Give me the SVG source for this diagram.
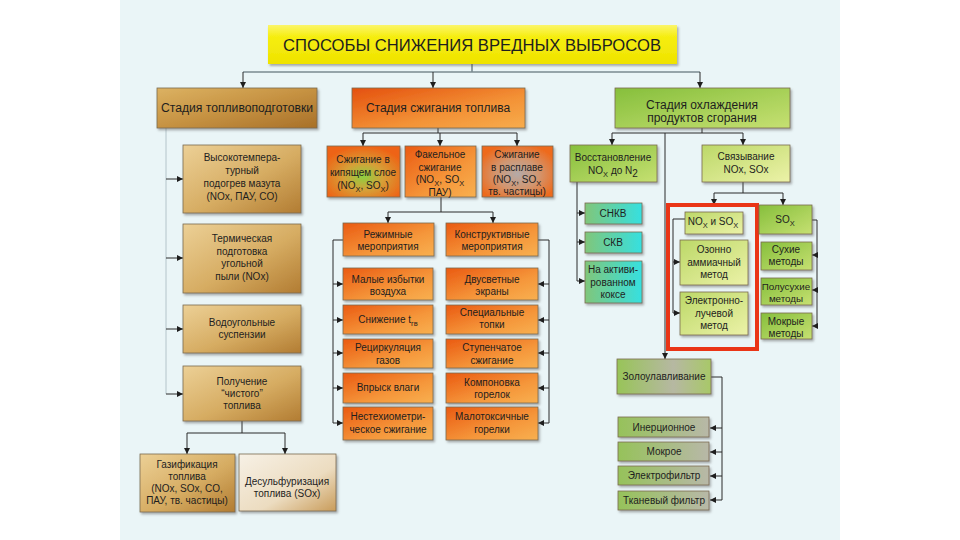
<svg xmlns="http://www.w3.org/2000/svg" width="960" height="540" viewBox="0 0 960 540">
<defs>
<style>
text{font-family:"Liberation Sans",Arial,sans-serif;fill:#1e1e1e;text-anchor:middle}
.t10{font-size:10px}
.t9{font-size:9.8px}
.ts{font-size:12px}
.box{stroke:#7a6a50;stroke-width:0.8;filter:url(#sh)}
.ln{fill:none;stroke:#2a2a2a;stroke-width:1}
.lt{fill:none;stroke:#7a8a90;stroke-width:1.6}
.ar{fill:none;stroke:#2a2a2a;stroke-width:1;marker-end:url(#ah)}
</style>
<filter id="sh" x="-10%" y="-10%" width="130%" height="140%"><feDropShadow dx="1.5" dy="2" stdDeviation="1" flood-color="#555" flood-opacity="0.45"/></filter>
<marker id="ah" markerUnits="userSpaceOnUse" markerWidth="7" markerHeight="7" refX="6" refY="3" orient="auto"><path d="M0,0 L6,3 L0,6 z" fill="#1e1e1e"/></marker>
<linearGradient id="gTitle" x1="0" y1="0" x2="0" y2="1"><stop offset="0" stop-color="#fbf56a"/><stop offset="0.3" stop-color="#f6ee10"/><stop offset="1" stop-color="#efe300"/></linearGradient>
<linearGradient id="gGold" x1="0" y1="0" x2="1" y2="1"><stop offset="0" stop-color="#ecd096"/><stop offset="0.55" stop-color="#d6ac62"/><stop offset="1" stop-color="#b27c32"/></linearGradient>
<linearGradient id="gGoldS" x1="0" y1="0" x2="1" y2="1"><stop offset="0" stop-color="#dcb262"/><stop offset="0.5" stop-color="#c69242"/><stop offset="1" stop-color="#a87028"/></linearGradient>
<linearGradient id="gDes" x1="0" y1="0" x2="1" y2="1"><stop offset="0" stop-color="#f7f1e6"/><stop offset="0.6" stop-color="#ecdcc0"/><stop offset="1" stop-color="#c99c5a"/></linearGradient>
<linearGradient id="gOr" x1="0" y1="0" x2="1" y2="1"><stop offset="0" stop-color="#ea5a12"/><stop offset="0.6" stop-color="#f5963a"/><stop offset="1" stop-color="#f8b050"/></linearGradient>
<linearGradient id="gOrS" x1="0" y1="0" x2="1" y2="1"><stop offset="0" stop-color="#e4500e"/><stop offset="0.6" stop-color="#f39236"/><stop offset="1" stop-color="#f7ac4c"/></linearGradient>
<radialGradient id="gKip" cx="0.5" cy="0.6" r="0.6"><stop offset="0" stop-color="#8ed040"/><stop offset="0.45" stop-color="#d6a038"/><stop offset="1" stop-color="#ee6416"/></radialGradient>
<radialGradient id="gRas" cx="0.5" cy="0.55" r="0.6"><stop offset="0" stop-color="#b4aaa8"/><stop offset="0.5" stop-color="#d29670"/><stop offset="1" stop-color="#ee6a1c"/></radialGradient>
<linearGradient id="gGr" x1="0" y1="0" x2="1" y2="1"><stop offset="0" stop-color="#86bf3c"/><stop offset="1" stop-color="#c6e072"/></linearGradient>
<linearGradient id="gGrL" x1="0" y1="0" x2="1" y2="1"><stop offset="0" stop-color="#bcd868"/><stop offset="1" stop-color="#ecf2a8"/></linearGradient>
<linearGradient id="gCy" x1="0" y1="0" x2="1" y2="0"><stop offset="0" stop-color="#80c67a"/><stop offset="1" stop-color="#36e0e0"/></linearGradient>
<linearGradient id="gGG" x1="0" y1="0" x2="1" y2="0"><stop offset="0" stop-color="#98c458"/><stop offset="0.6" stop-color="#b6b8a2"/><stop offset="1" stop-color="#a8c868"/></linearGradient>
<linearGradient id="gGG2" x1="0" y1="0" x2="1" y2="0"><stop offset="0" stop-color="#96c25a"/><stop offset="1" stop-color="#b8b8a8"/></linearGradient>
</defs>

<rect x="0" y="0" width="960" height="540" fill="#ffffff"/>
<rect x="120" y="0" width="720" height="540" fill="#eaf5f7"/>

<g id="connectors">
<line class="lt" x1="472" y1="64" x2="472" y2="72"/>
<line class="lt" x1="243" y1="72" x2="700" y2="72"/>
<line class="ar" x1="243" y1="72" x2="243" y2="88"/>
<line class="ar" x1="433" y1="72" x2="433" y2="88"/>
<line class="ar" x1="700" y1="72" x2="700" y2="88"/>
<line x1="166" y1="128" x2="166" y2="394" stroke="#b4c4ca" stroke-width="1"/>
<line class="ar" x1="166" y1="179" x2="183" y2="179"/>
<line class="ar" x1="166" y1="258" x2="183" y2="258"/>
<line class="ar" x1="166" y1="329" x2="183" y2="329"/>
<line class="ar" x1="166" y1="394" x2="183" y2="394"/>
<line class="ln" x1="242" y1="421" x2="242" y2="433"/>
<line class="ln" x1="187" y1="433" x2="285" y2="433"/>
<line class="ar" x1="187" y1="433" x2="187" y2="454"/>
<line class="ar" x1="285" y1="433" x2="285" y2="454"/>
<line class="ln" x1="438" y1="128" x2="438" y2="133"/>
<line class="ln" x1="363" y1="133" x2="517" y2="133"/>
<line class="ar" x1="363" y1="133" x2="363" y2="146"/>
<line class="ar" x1="440" y1="133" x2="440" y2="146"/>
<line class="ar" x1="517" y1="133" x2="517" y2="146"/>
<line class="ln" x1="441" y1="197" x2="441" y2="212"/>
<line class="ln" x1="388" y1="212" x2="493" y2="212"/>
<line class="ar" x1="388" y1="212" x2="388" y2="223"/>
<line class="ar" x1="493" y1="212" x2="493" y2="223"/>
<polyline class="ln" points="343,240 333,240 333,423"/>
<line class="ar" x1="333" y1="284" x2="343" y2="284"/>
<line class="ar" x1="333" y1="320" x2="343" y2="320"/>
<line class="ar" x1="333" y1="353" x2="343" y2="353"/>
<line class="ar" x1="333" y1="388" x2="343" y2="388"/>
<line class="ar" x1="333" y1="423" x2="343" y2="423"/>
<polyline class="ln" points="538,240 549,240 549,423"/>
<line class="ar" x1="549" y1="284" x2="538" y2="284"/>
<line class="ar" x1="549" y1="320" x2="538" y2="320"/>
<line class="ar" x1="549" y1="353" x2="538" y2="353"/>
<line class="ar" x1="549" y1="388" x2="538" y2="388"/>
<line class="ar" x1="549" y1="423" x2="538" y2="423"/>
<line class="ln" x1="702" y1="128" x2="702" y2="133"/>
<line class="ln" x1="612" y1="133" x2="743" y2="133"/>
<line class="ar" x1="612" y1="133" x2="612" y2="145"/>
<line class="ar" x1="743" y1="133" x2="743" y2="145"/>
<line class="ar" x1="665" y1="133" x2="665" y2="359"/>
<line class="ln" x1="577" y1="182" x2="577" y2="281"/>
<line class="ar" x1="577" y1="213" x2="585" y2="213"/>
<line class="ar" x1="577" y1="242" x2="585" y2="242"/>
<line class="ar" x1="577" y1="281" x2="585" y2="281"/>
<line class="ln" x1="743" y1="182" x2="743" y2="193"/>
<line class="ln" x1="714" y1="193" x2="783" y2="193"/>
<line class="ar" x1="714" y1="193" x2="714" y2="205"/>
<line class="ar" x1="783" y1="193" x2="783" y2="205"/>
<polyline class="ln" points="685,219 673,219 673,313"/>
<line class="ar" x1="673" y1="262" x2="680" y2="262"/>
<line class="ar" x1="673" y1="313" x2="680" y2="313"/>
<polyline class="ln" points="812,220 817,220 817,327"/>
<line class="ar" x1="817" y1="255" x2="812" y2="255"/>
<line class="ar" x1="817" y1="290" x2="812" y2="290"/>
<line class="ar" x1="817" y1="326" x2="812" y2="326"/>
<polyline class="ln" points="711,377 722,377 722,500"/>
<line class="ar" x1="722" y1="428" x2="710" y2="428"/>
<line class="ar" x1="722" y1="452" x2="710" y2="452"/>
<line class="ar" x1="722" y1="476" x2="710" y2="476"/>
<line class="ar" x1="722" y1="500" x2="710" y2="500"/>
</g>

<g id="title">
<rect x="268" y="25" width="409" height="39" fill="url(#gTitle)" filter="url(#sh)"/>
<text x="472" y="51" style="font-size:17px" textLength="378" lengthAdjust="spacingAndGlyphs">СПОСОБЫ  СНИЖЕНИЯ  ВРЕДНЫХ  ВЫБРОСОВ</text>
</g>

<g id="stage-fuel">
<rect class="box" x="157" y="88" width="160" height="40" fill="url(#gGoldS)"/>
<text class="ts" x="237" y="112" textLength="152" lengthAdjust="spacingAndGlyphs">Стадия топливоподготовки</text>
</g>
<g id="stage-burn">
<rect class="box" x="352" y="88" width="173" height="40" fill="url(#gOrS)"/>
<text class="ts" x="438" y="112">Стадия сжигания топлива</text>
</g>
<g id="stage-cool">
<rect class="box" x="615" y="88" width="175" height="40" fill="url(#gGr)"/>
<text class="ts" x="702" y="109">Стадия охлаждения</text>
<text class="ts" x="702" y="122">продуктов сгорания</text>
</g>

<g id="f1">
<rect class="box" x="183" y="145" width="118" height="68" fill="url(#gGold)"/>
<text class="t10" x="242" y="161">Высокотемпера-<tspan x="242" dy="13">турный</tspan><tspan x="242" dy="13">подогрев мазута</tspan><tspan x="242" dy="13">(NOx, ПАУ, CO)</tspan></text>
</g>
<g id="f2">
<rect class="box" x="183" y="224" width="118" height="69" fill="url(#gGold)"/>
<text class="t10" x="242" y="242">Термическая<tspan x="242" dy="12.7">подготовка</tspan><tspan x="242" dy="12.7">угольной</tspan><tspan x="242" dy="12.7">пыли (NOx)</tspan></text>
</g>
<g id="f3">
<rect class="box" x="183" y="305" width="118" height="48" fill="url(#gGold)"/>
<text class="t10" x="242" y="326">Водоугольные<tspan x="242" dy="12">суспензии</tspan></text>
</g>
<g id="f4">
<rect class="box" x="183" y="366" width="118" height="55" fill="url(#gGold)"/>
<text class="t10" x="242" y="385">Получение<tspan x="242" dy="12">“чистого”</tspan><tspan x="242" dy="12">топлива</tspan></text>
</g>
<g id="f5">
<rect class="box" x="140" y="454" width="95" height="58" fill="url(#gGold)"/>
<text class="t10" x="187" y="468">Газификация<tspan x="187" dy="12">топлива</tspan><tspan x="187" dy="12">(NOx, SOx, CO,</tspan><tspan x="187" dy="12">ПАУ, тв. частицы)</tspan></text>
</g>
<g id="f6">
<rect class="box" x="239" y="454" width="97" height="57" fill="url(#gDes)"/>
<text class="t10" x="287" y="485">Десульфуризация<tspan x="287" dy="12">топлива (SOx)</tspan></text>
</g>

<g id="c1">
<rect class="box" x="327" y="146" width="73" height="51" fill="url(#gKip)"/>
<text class="t10" x="363" y="163">Сжигание в<tspan x="363" dy="13">кипящем слое</tspan><tspan x="363" dy="13">(NO<tspan dy="2.5" font-size="7.5">X</tspan><tspan dy="-2.5">, SO</tspan><tspan dy="2.5" font-size="7.5">X</tspan><tspan dy="-2.5">)</tspan></tspan></text>
</g>
<g id="c2">
<rect class="box" x="405" y="146" width="71" height="51" fill="url(#gOr)"/>
<text class="t10" x="440" y="158">Факельное<tspan x="440" dy="12.5">сжигание</tspan><tspan x="440" dy="12.5">(NO<tspan dy="2.5" font-size="7.5">X</tspan><tspan dy="-2.5">, SO</tspan><tspan dy="2.5" font-size="7.5">X</tspan></tspan><tspan x="440" dy="10">ПАУ)</tspan></text>
</g>
<g id="c3">
<rect class="box" x="482" y="146" width="71" height="51" fill="url(#gRas)"/>
<text class="t10" x="517" y="158">Сжигание<tspan x="517" dy="13">в расплаве</tspan><tspan x="517" dy="12">(NO<tspan dy="2.5" font-size="7.5">X</tspan><tspan dy="-2.5">, SO</tspan><tspan dy="2.5" font-size="7.5">X</tspan></tspan><tspan x="517" dy="9.5">тв. частицы)</tspan></text>
</g>
<g id="c4">
<rect class="box" x="343" y="223" width="91" height="33" fill="url(#gOr)"/>
<text class="t10" x="388" y="238">Режимные<tspan x="388" dy="11.5">мероприятия</tspan></text>
</g>
<g id="c5">
<rect class="box" x="446" y="223" width="92" height="33" fill="url(#gOr)"/>
<text class="t10" x="492" y="238">Конструктивные<tspan x="492" dy="11.5">мероприятия</tspan></text>
</g>
<g id="c6">
<rect class="box" x="343" y="268" width="90" height="32" fill="url(#gOr)"/>
<text class="t10" x="388" y="283">Малые избытки<tspan x="388" dy="12">воздуха</tspan></text>
</g>
<g id="c7">
<rect class="box" x="343" y="305" width="90" height="29" fill="url(#gOr)"/>
<text class="t10" x="388" y="323">Снижение t<tspan dy="2.5" font-size="7.5">гв</tspan></text>
</g>
<g id="c8">
<rect class="box" x="343" y="339" width="90" height="29" fill="url(#gOr)"/>
<text class="t10" x="388" y="351">Рециркуляция<tspan x="388" dy="12.5">газов</tspan></text>
</g>
<g id="c9">
<rect class="box" x="343" y="373" width="90" height="30" fill="url(#gOr)"/>
<text class="t10" x="388" y="391">Впрыск влаги</text>
</g>
<g id="c10">
<rect class="box" x="343" y="407" width="90" height="33" fill="url(#gOr)"/>
<text class="t10" x="388" y="420">Нестехиометри-<tspan x="388" dy="13">ческое сжигание</tspan></text>
</g>
<g id="c11">
<rect class="box" x="446" y="268" width="92" height="32" fill="url(#gOr)"/>
<text class="t10" x="492" y="283">Двусветные<tspan x="492" dy="12">экраны</tspan></text>
</g>
<g id="c12">
<rect class="box" x="446" y="305" width="92" height="29" fill="url(#gOr)"/>
<text class="t10" x="492" y="316">Специальные<tspan x="492" dy="12">топки</tspan></text>
</g>
<g id="c13">
<rect class="box" x="446" y="339" width="92" height="29" fill="url(#gOr)"/>
<text class="t10" x="492" y="351">Ступенчатое<tspan x="492" dy="12.5">сжигание</tspan></text>
</g>
<g id="c14">
<rect class="box" x="446" y="373" width="92" height="30" fill="url(#gOr)"/>
<text class="t10" x="492" y="386">Компоновка<tspan x="492" dy="12">горелок</tspan></text>
</g>
<g id="c15">
<rect class="box" x="446" y="407" width="92" height="33" fill="url(#gOr)"/>
<text class="t10" x="492" y="420">Малотоксичные<tspan x="492" dy="13">горелки</tspan></text>
</g>

<g id="k1">
<rect class="box" x="570" y="145" width="87" height="37" fill="url(#gGr)"/>
<text class="t10" x="613" y="161">Восстановление<tspan x="613" dy="13">NO<tspan dy="2.5" font-size="7.5">X</tspan><tspan dy="-2.5"> до N</tspan><tspan dy="2.5">2</tspan></tspan></text>
</g>
<g id="k2">
<rect class="box" x="702" y="145" width="88" height="37" fill="url(#gGrL)"/>
<text class="t10" x="746" y="160">Связывание<tspan x="746" dy="12.5">NOx, SOx</tspan></text>
</g>
<g id="k3">
<rect class="box" x="585" y="203" width="57" height="21" fill="url(#gCy)"/>
<text class="t10" x="613" y="217">СНКВ</text>
</g>
<g id="k4">
<rect class="box" x="585" y="232" width="57" height="21" fill="url(#gCy)"/>
<text class="t10" x="613" y="246">СКВ</text>
</g>
<g id="k5">
<rect class="box" x="585" y="261" width="57" height="42" fill="url(#gCy)"/>
<text class="t10" x="613" y="273">На активи-<tspan x="613" dy="12.5">рованном</tspan><tspan x="613" dy="12.5">коксе</tspan></text>
</g>
<g id="highlight">
<rect x="668" y="205" width="89" height="144" fill="none" stroke="#ea3516" stroke-width="4"/>
</g>
<g id="k6">
<rect class="box" x="685" y="212" width="58" height="22" fill="url(#gGrL)"/>
<text class="t10" x="713" y="225">NO<tspan dy="2.5" font-size="7.5">X</tspan><tspan dy="-2.5"> и SO</tspan><tspan dy="2.5" font-size="7.5">X</tspan></text>
</g>
<g id="k7">
<rect class="box" x="680" y="240" width="68" height="45" fill="url(#gGrL)"/>
<text class="t10" x="714" y="253">Озонно<tspan x="714" dy="12.5">аммиачный</tspan><tspan x="714" dy="12.5">метод</tspan></text>
</g>
<g id="k8">
<rect class="box" x="680" y="292" width="68" height="43" fill="url(#gGrL)"/>
<text class="t10" x="714" y="304">Электронно-<tspan x="714" dy="12.5">лучевой</tspan><tspan x="714" dy="12.5">метод</tspan></text>
</g>
<g id="k9">
<rect class="box" x="759" y="205" width="53" height="29" fill="url(#gGr)"/>
<text class="t10" x="785" y="223">SO<tspan dy="2.5" font-size="7.5">X</tspan></text>
</g>
<g id="k10">
<rect class="box" x="761" y="242" width="51" height="28" fill="url(#gGr)"/>
<text class="t10" x="786" y="253">Сухие<tspan x="786" dy="12">методы</tspan></text>
</g>
<g id="k11">
<rect class="box" x="761" y="278" width="51" height="27" fill="url(#gGr)"/>
<text class="t9" x="786" y="290">Полусухие<tspan x="786" dy="11.5">методы</tspan></text>
</g>
<g id="k12">
<rect class="box" x="761" y="313" width="51" height="26" fill="url(#gGr)"/>
<text class="t10" x="786" y="325">Мокрые<tspan x="786" dy="11.5">методы</tspan></text>
</g>
<g id="k13">
<rect class="box" x="617" y="359" width="94" height="35" fill="url(#gGG)"/>
<text class="t10" x="664" y="380">Золоулавливание</text>
</g>
<g id="k14">
<rect class="box" x="618" y="417" width="91" height="20" fill="url(#gGG2)"/>
<text class="t10" x="664" y="431">Инерционное</text>
</g>
<g id="k15">
<rect class="box" x="618" y="442" width="91" height="19" fill="url(#gGG2)"/>
<text class="t10" x="664" y="455">Мокрое</text>
</g>
<g id="k16">
<rect class="box" x="618" y="466" width="91" height="19" fill="url(#gGG2)"/>
<text class="t10" x="664" y="479">Электрофильтр</text>
</g>
<g id="k17">
<rect class="box" x="618" y="491" width="91" height="19" fill="url(#gGG2)"/>
<text class="t10" x="664" y="504">Тканевый фильтр</text>
</g>
</svg>
